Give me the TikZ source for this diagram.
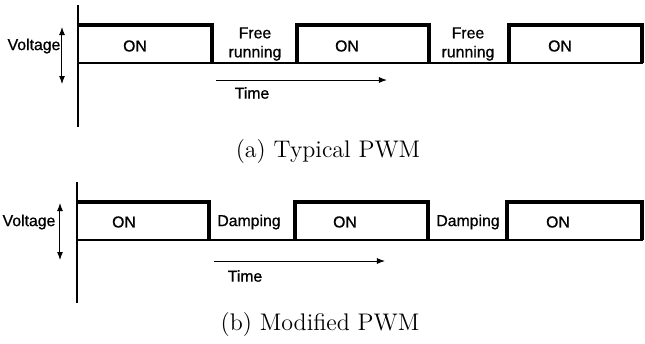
\documentclass[tikz,border=0pt]{standalone}
\usepackage{fontspec}
\usepackage{tikz}
\usetikzlibrary{arrows.meta}
\newfontfamily\labelfont[FakeBold=0.8]{Liberation Sans}

\begin{document}
\begin{tikzpicture}[x=0.5pt,y=0.5pt,yscale=-1,xscale=1,
  pulse/.style={line width=1.6pt,line join=miter},
  base/.style={line width=1pt},
  axis/.style={line width=0.8pt},
  tag/.style={font=\labelfont\fontsize{7.9}{9.5}\selectfont,inner sep=0.75pt,align=center},
  capt/.style={font=\fontsize{12}{14}\selectfont,inner sep=0.75pt}]
\useasboundingbox (0,0) rectangle (645,344);

%%%%%%%%%%%%%%%% (a) typical PWM

%Straight Lines [id:axis_a]
\draw [axis]  (78,5) -- (78,127) ;
%Straight Lines [id:volt_a]
\coordinate (va1) at (62,27) ;
\coordinate (va2) at (62,84) ;
\draw [{Latex[length=4pt,width=3pt]}-{Latex[length=4pt,width=3pt]},line width=0.5pt]  (va1) -- (va2) ;
%Straight Lines [id:base_a]
\draw [base]  (78,63) -- (643,63) ;
%Shape: Pulses [id:pulse_a]
\draw [pulse]  (78,25) -- (212,25) -- (212,63) ;
\draw [pulse]  (297,63) -- (297,25) -- (429,25) -- (429,63) ;
\draw [pulse]  (509,63) -- (509,25) -- (642,25) -- (642,63) ;
%Straight Lines [id:time_a]
\coordinate (ta1) at (216,80) ;
\coordinate (ta2) at (387,80) ;
\draw [-{Latex[length=4pt,width=3pt]},line width=0.5pt]  (ta1) -- (ta2) ;

% Text Node
\node [tag] (volt_a) at (34,46) {Voltage};
% Text Node
\node [tag] (on_a1) at (135,46) {ON};
% Text Node
\node [tag] (on_a2) at (347,46) {ON};
% Text Node
\node [tag] (on_a3) at (560,46) {ON};
% Text Node
\node [tag] (free_a1) at (255,44) {Free\\running};
% Text Node
\node [tag] (free_a2) at (468,44) {Free\\running};
% Text Node
\node [tag] (time_a) at (252,93) {Time};
% Text Node
\node [capt] (capt_a) at (328,152) {(a) Typical PWM};

%%%%%%%%%%%%%%%% (b) modified PWM

%Straight Lines [id:axis_b]
\draw [axis]  (77,182) -- (77,303) ;
%Straight Lines [id:volt_b]
\coordinate (vb1) at (60,203) ;
\coordinate (vb2) at (60,260) ;
\draw [{Latex[length=4pt,width=3pt]}-{Latex[length=4pt,width=3pt]},line width=0.5pt]  (vb1) -- (vb2) ;
%Straight Lines [id:base_b]
\draw [base]  (77,240) -- (643,240) ;
%Shape: Pulses [id:pulse_b]
\draw [pulse]  (77,202) -- (209,202) -- (209,240) ;
\draw [pulse]  (295,240) -- (295,202) -- (428,202) -- (428,240) ;
\draw [pulse]  (507,240) -- (507,202) -- (642,202) -- (642,240) ;
%Straight Lines [id:time_b]
\coordinate (tb1) at (214,261) ;
\coordinate (tb2) at (385,261) ;
\draw [-{Latex[length=4pt,width=3pt]},line width=0.5pt]  (tb1) -- (tb2) ;

% Text Node
\node [tag] (volt_b) at (29,222) {Voltage};
% Text Node
\node [tag] (on_b1) at (124,222) {ON};
% Text Node
\node [tag] (on_b2) at (345,222) {ON};
% Text Node
\node [tag] (on_b3) at (558,222) {ON};
% Text Node
\node [tag] (damp_b1) at (249,222) {Damping};
% Text Node
\node [tag] (damp_b2) at (468,222) {Damping};
% Text Node
\node [tag] (time_b) at (245,276) {Time};
% Text Node
\node [capt] (capt_b) at (320,325) {(b) Modified PWM};

\end{tikzpicture}
\end{document}
